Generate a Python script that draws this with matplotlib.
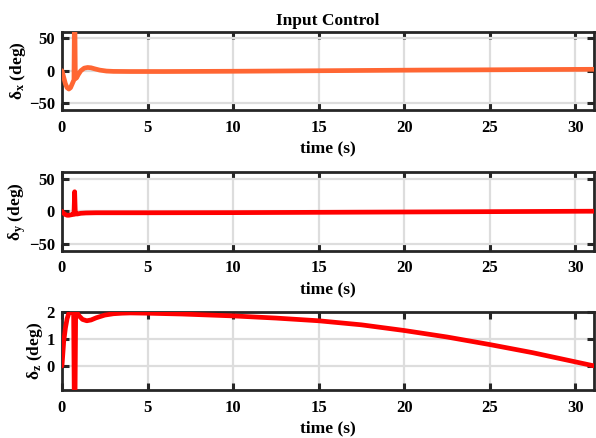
import matplotlib
matplotlib.use("Agg")
import matplotlib.pyplot as plt

# Control surface deflections (deg) over time (s)
t_x = [0, 0.1, 0.2, 0.3, 0.4, 0.5, 0.6, 0.7, 0.74, 0.78, 0.85, 0.95, 1.1, 1.3, 1.5,
       1.7, 1.9, 2.2, 2.6, 3.0, 4, 6, 8, 10, 12, 15, 18, 21, 24, 27, 31.1]
delta_x = [0, -10, -20, -26, -28, -26, -20, -14, 120, -12, -11, -6, 0, 4, 5,
           4.5, 3, 1, -0.5, -1, -1.2, -1.2, -1, -0.8, -0.5, 0, 0.5, 1, 1.3, 1.7, 2.2]

t_y = [0, 0.1, 0.2, 0.3, 0.4, 0.5, 0.6, 0.7, 0.74, 0.78, 0.9, 1.1, 1.4, 2, 5,
       10, 15, 20, 25, 31.1]
delta_y = [0, -3, -5, -6, -6, -5.5, -5, -4.5, 30, -4, -4, -3, -2.5, -2.2, -2.2,
           -2, -1.5, -1, -0.5, 0.2]

t_z = [0, 0.1, 0.2, 0.3, 0.4, 0.5, 0.6, 0.68, 0.74, 0.8, 0.9, 1.0, 1.2, 1.45, 1.7,
       2.0, 2.5, 3.0, 3.5, 4.0, 5, 7, 10, 12.5, 15, 17.5, 20, 22.5, 25, 27.5, 30, 31.1]
delta_z = [0, 0.9, 1.4, 1.75, 1.95, 2.0, 2.0, 1.95, -3, 2.0, 1.95, 1.85, 1.72, 1.67, 1.7,
           1.78, 1.88, 1.93, 1.95, 1.96, 1.95, 1.92, 1.85, 1.77, 1.67, 1.52, 1.31, 1.07,
           0.79, 0.49, 0.15, 0.0]

x_ticks = [0, 5, 10, 15, 20, 25, 30]
y_ticks_xy = [-50, 0, 50]
y_ticks_z = [0, 1, 2]

plt.rcParams['font.family'] = ['Liberation Serif', 'DejaVu Serif']
plt.rcParams['font.weight'] = 'bold'
plt.rcParams['mathtext.fontset'] = 'custom'
plt.rcParams['mathtext.rm'] = 'Liberation Serif:bold'
plt.rcParams['mathtext.it'] = 'Liberation Serif:bold'
plt.rcParams['mathtext.bf'] = 'Liberation Serif:bold'

fig = plt.figure(figsize=(5.96, 4.38), dpi=100)

panels = [
    (t_x, delta_x, '#FF6633', (-60, 60), y_ticks_xy, r'$\delta_{\rm x}$ (deg)', 0.749),
    (t_y, delta_y, '#FF0000', (-60, 60), y_ticks_xy, r'$\delta_{\rm y}$ (deg)', 0.428),
    (t_z, delta_z, '#FF0000', (-0.9, 2.0), y_ticks_z, r'$\delta_{\rm z}$ (deg)', 0.109),
]

axes = []
for t, d, color, ylim, yt, ylab, bottom in panels:
    ax = fig.add_axes([0.104, bottom, 0.893, 0.179])
    ax.plot(t, d, color=color, lw=3.4, solid_joinstyle='round', solid_capstyle='round',
            zorder=3)
    ax.set_xlim(0, 31.1)
    ax.set_ylim(*ylim)
    ax.set_xticks(x_ticks)
    ax.set_yticks(yt)
    ax.grid(True, color='#DDDDDD', lw=1.6)
    ax.set_axisbelow(True)
    for s in ax.spines.values():
        s.set_linewidth(2.0)
        s.set_color('#262626')
    ax.tick_params(axis='both', direction='in', length=5, width=2.2, color='#262626',
                   top=True, right=True, labelsize=12)
    ax.tick_params(axis='x', pad=7)
    ax.tick_params(axis='y', pad=5)
    for lab in ax.get_xticklabels() + ax.get_yticklabels():
        lab.set_fontweight('bold')
    ax.set_xlabel('time (s)', fontsize=12.5, fontweight='bold', labelpad=3.5)
    ax.set_ylabel(ylab, fontsize=12.5, fontweight='bold', labelpad=1)
    axes.append(ax)

axes[0].set_title('Input Control', fontsize=12.5, fontweight='bold', pad=5)

fig.savefig('out.png', dpi=100)
